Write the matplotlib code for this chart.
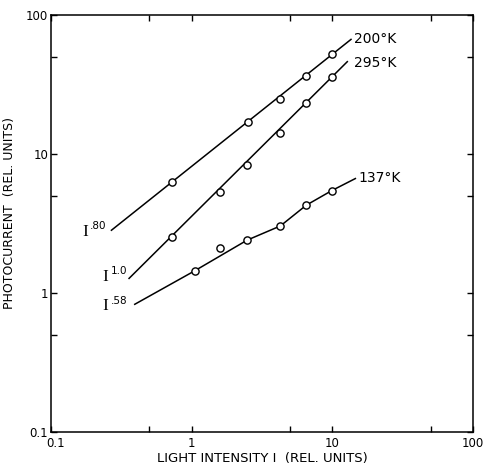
import matplotlib.pyplot as plt
from matplotlib.ticker import FixedLocator, FixedFormatter, NullFormatter
import matplotlib.transforms as mtransforms

plt.rcParams['font.family'] = ['DejaVu Sans']

# measured points (light intensity, photocurrent)
x_200 = [0.72, 2.51, 4.28, 6.54, 9.95]
y_200 = [6.32, 16.9, 25.0, 36.2, 52.2]
x_295 = [0.72, 1.60, 2.48, 4.28, 6.54, 9.95]
y_295 = [2.54, 5.36, 8.38, 14.3, 23.3, 35.8]
x_137 = [1.05, 1.60, 2.48, 4.28, 6.54, 9.95]
y_137 = [1.45, 2.12, 2.41, 3.05, 4.30, 5.48]

# drawn fit lines
fit_x_200 = [0.269, 13.6]
fit_y_200 = [2.84, 66.8]
fit_x_295 = [0.359, 12.8]
fit_y_295 = [1.28, 46.2]
fit_x_137 = [0.394, 1.05, 2.48, 4.28, 6.54, 9.95, 14.6]
fit_y_137 = [0.834, 1.45, 2.41, 3.05, 4.30, 5.48, 6.68]

temps = ['200°K', '295°K', '137°K']
exponents = ['.80', '1.0', '.58']

fig = plt.figure(figsize=(4.83, 4.70), dpi=100)
ax = fig.add_axes([0.1056, 0.0798, 0.8734, 0.8883])
ax.set_xscale('log')
ax.set_yscale('log')
ax.set_xlim(0.1, 100)
ax.set_ylim(0.1, 100)

for fx, fy in [(fit_x_200, fit_y_200), (fit_x_295, fit_y_295), (fit_x_137, fit_y_137)]:
    ax.plot(fx, fy, color='black', lw=1.1, zorder=2)
for px, py in [(x_200, y_200), (x_295, y_295), (x_137, y_137)]:
    ax.plot(px, py, 'o', ms=5.2, mfc='white', mec='black', mew=1.0, zorder=3)

# temperature labels at the line ends
ax.text(14.2, 67, temps[0], fontsize=10, va='center', ha='left')
ax.text(14.2, 45, temps[1], fontsize=10, va='center', ha='left')
ax.text(15.4, 6.75, temps[2], fontsize=10, va='center', ha='left')

# exponent labels at the line starts
for (lx, ly), e in zip([(0.166, 2.77), (0.233, 1.31), (0.233, 0.806)], exponents):
    ax.text(lx, ly, 'I', fontsize=12.5, family='Liberation Serif', va='center', ha='left')
    ax.annotate(e, xy=(lx, ly), xytext=(6, 0.5), textcoords='offset points',
                fontsize=7.5, va='bottom', ha='left')

major = [0.1, 1, 10, 100]
minor = [0.5, 5, 50]
ax.xaxis.set_major_locator(FixedLocator(major))
ax.yaxis.set_major_locator(FixedLocator(major))
ax.xaxis.set_minor_locator(FixedLocator(minor))
ax.yaxis.set_minor_locator(FixedLocator(minor))
labels = ['0.1', '1', '10', '100']
ax.xaxis.set_major_formatter(FixedFormatter(labels))
ax.yaxis.set_major_formatter(FixedFormatter(labels))
ax.xaxis.set_minor_formatter(NullFormatter())
ax.yaxis.set_minor_formatter(NullFormatter())
ax.tick_params(which='both', direction='in', top=True, right=True,
               length=4.5, width=1.0, labelsize=8.5, pad=2)
ax.tick_params(axis='x', pad=3)

for s in ax.spines.values():
    s.set_linewidth(1.1)

# nudge the x "0.1" label right so it clears the y "0.1"
fig.canvas.draw()
xl0 = ax.get_xticklabels()[0]
xl0.set_transform(xl0.get_transform() + mtransforms.ScaledTranslation(5 / 100, 0, fig.dpi_scale_trans))

ax.set_xlabel('LIGHT INTENSITY I  (REL. UNITS)', fontsize=9.5, labelpad=2)
ax.set_ylabel('PHOTOCURRENT  (REL. UNITS)', fontsize=9)
ax.yaxis.set_label_coords(-0.083, 0.526)

fig.savefig('out.png', dpi=100)
